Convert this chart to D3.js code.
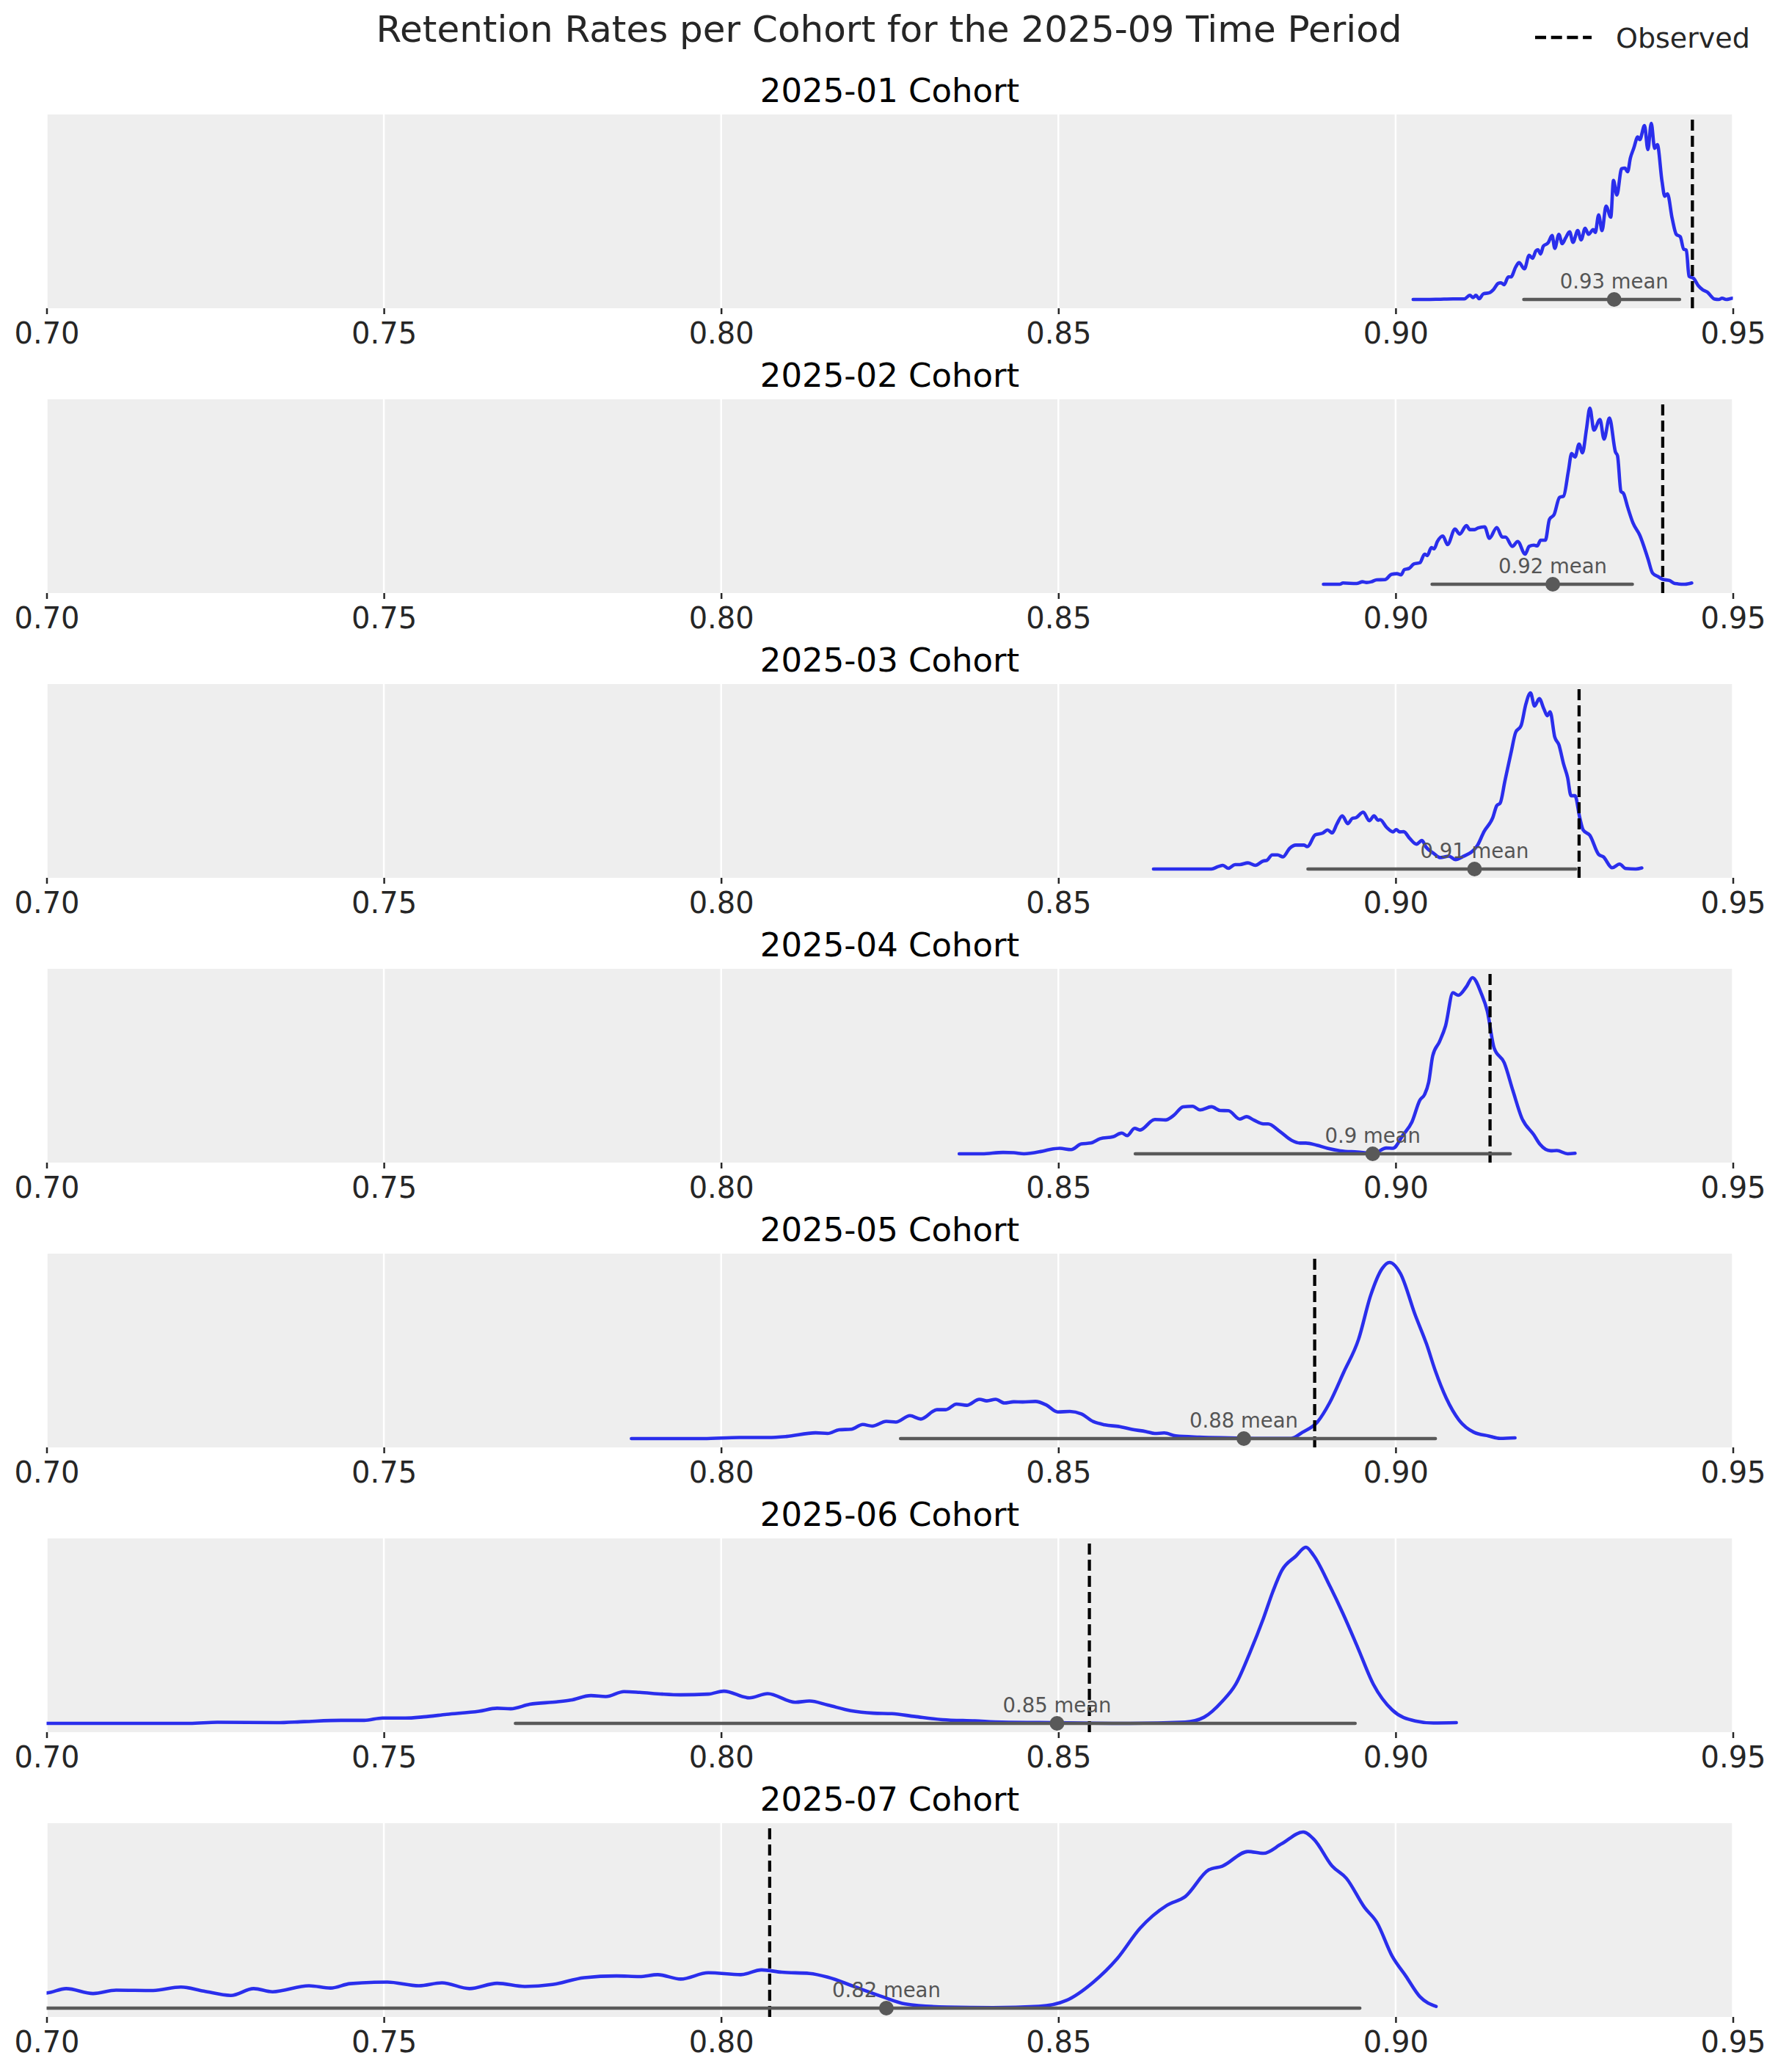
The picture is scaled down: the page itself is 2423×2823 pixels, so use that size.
<!DOCTYPE html>
<html>
<head>
<meta charset="utf-8">
<script src="https://cdn.jsdelivr.net/npm/d3@7"></script>
<style>
  body { margin: 0; background: #fff; }
  svg { display: block; font-family: 'DejaVu Sans', sans-serif; }
</style>
</head>
<body>
<svg id="chart"></svg>
<script>
'use strict';

const cohorts = ['2025-01', '2025-02', '2025-03', '2025-04', '2025-05', '2025-06', '2025-07'];
const observedRates = [0.9440, 0.9396, 0.9272, 0.9140, 0.8880, 0.8546, 0.8072];
const meanRates = [0.9324, 0.9233, 0.9117, 0.8966, 0.8775, 0.8498, 0.8245];
const hdiLower = [0.9190, 0.9054, 0.8870, 0.8614, 0.8266, 0.7695, 0.6800];
const hdiUpper = [0.9421, 0.9351, 0.9267, 0.9170, 0.9059, 0.8940, 0.8947];
const xTicks = [0.70, 0.75, 0.80, 0.85, 0.90, 0.95];

// posterior kde per cohort as [rate, density], density scaled so the peak is 1
const kde202501 = [[0.9026,0],[0.9045,0],[0.9063,0.001],[0.9085,0.003],[0.9102,0.003],[0.9110,0.024],[0.9115,0.011],[0.9119,0.024],[0.9124,0.004],[0.9130,0.032],[0.9139,0.038],[0.9145,0.056],[0.9152,0.091],[0.9156,0.095],[0.9161,0.084],[0.9167,0.128],[0.9171,0.128],[0.9178,0.184],[0.9183,0.209],[0.9191,0.174],[0.9198,0.251],[0.9203,0.234],[0.9208,0.276],[0.9211,0.282],[0.9215,0.258],[0.9219,0.303],[0.9226,0.321],[0.9232,0.363],[0.9236,0.290],[0.9242,0.370],[0.9247,0.317],[0.9252,0.349],[0.9258,0.384],[0.9263,0.324],[0.9270,0.391],[0.9275,0.338],[0.9281,0.404],[0.9286,0.370],[0.9293,0.397],[0.9296,0.380],[0.9301,0.480],[0.9306,0.391],[0.9312,0.530],[0.9319,0.467],[0.9323,0.676],[0.9328,0.593],[0.9335,0.742],[0.9340,0.746],[0.9344,0.725],[0.9348,0.802],[0.9353,0.858],[0.9359,0.923],[0.9362,0.907],[0.9369,0.987],[0.9374,0.851],[0.9379,1.0],[0.9384,0.858],[0.9388,0.879],[0.9395,0.669],[0.9399,0.586],[0.9403,0.600],[0.9410,0.460],[0.9416,0.370],[0.9422,0.356],[0.9427,0.286],[0.9431,0.280],[0.9435,0.132],[0.9442,0.119],[0.9449,0.077],[0.9455,0.056],[0.9462,0.042],[0.9473,0.002],[0.9479,0],[0.9484,0.007],[0.9490,0],[0.9500,0.007],[0.9510,0.004]];
const kde202502 = [[0.8893,0],[0.8917,0],[0.8922,0.007],[0.8942,0.004],[0.8951,0.014],[0.8957,0.010],[0.8964,0.014],[0.8972,0.025],[0.8984,0.026],[0.8994,0.056],[0.9002,0.060],[0.9008,0.053],[0.9013,0.083],[0.9020,0.090],[0.9027,0.115],[0.9036,0.122],[0.9043,0.171],[0.9047,0.163],[0.9053,0.208],[0.9057,0.201],[0.9062,0.243],[0.9070,0.274],[0.9077,0.225],[0.9088,0.313],[0.9095,0.285],[0.9105,0.333],[0.9110,0.310],[0.9117,0.310],[0.9122,0.319],[0.9132,0.326],[0.9139,0.261],[0.9150,0.322],[0.9158,0.268],[0.9163,0.268],[0.9173,0.215],[0.9181,0.243],[0.9192,0.171],[0.9198,0.215],[0.9205,0.222],[0.9210,0.218],[0.9215,0.250],[0.9222,0.250],[0.9228,0.368],[0.9235,0.396],[0.9243,0.493],[0.9249,0.500],[0.9256,0.639],[0.9261,0.743],[0.9266,0.722],[0.9272,0.796],[0.9277,0.746],[0.9283,0.882],[0.9288,1.0],[0.9294,0.875],[0.9303,0.935],[0.9309,0.824],[0.9317,0.944],[0.9326,0.750],[0.9329,0.729],[0.9334,0.528],[0.9338,0.514],[0.9344,0.438],[0.9352,0.347],[0.9362,0.278],[0.9374,0.146],[0.9381,0.063],[0.9389,0.044],[0.9396,0.028],[0.9406,0.021],[0.9414,0.004],[0.9429,0],[0.9439,0.007]];
const kde202503 = [[0.8641,0],[0.8727,0],[0.8737,0.014],[0.8744,0.021],[0.8752,0.004],[0.8762,0.025],[0.8769,0.025],[0.8781,0.035],[0.8792,0.021],[0.8804,0.046],[0.8809,0.049],[0.8817,0.080],[0.8825,0.080],[0.8833,0.069],[0.8843,0.118],[0.8852,0.136],[0.8864,0.136],[0.8869,0.127],[0.8881,0.194],[0.8892,0.204],[0.8899,0.222],[0.8906,0.205],[0.8913,0.256],[0.8921,0.302],[0.8929,0.258],[0.8936,0.288],[0.8941,0.291],[0.8952,0.323],[0.8961,0.274],[0.8968,0.302],[0.8974,0.277],[0.8977,0.280],[0.8987,0.235],[0.8996,0.211],[0.9001,0.224],[0.9006,0.211],[0.9012,0.212],[0.9021,0.173],[0.9031,0.141],[0.9039,0.162],[0.9045,0.125],[0.9056,0.090],[0.9066,0.065],[0.9079,0.073],[0.9089,0.053],[0.9099,0.069],[0.9121,0.132],[0.9131,0.212],[0.9144,0.291],[0.9150,0.360],[0.9155,0.374],[0.9162,0.499],[0.9171,0.658],[0.9178,0.776],[0.9186,0.814],[0.9193,0.935],[0.9200,1.0],[0.9206,0.925],[0.9213,0.967],[0.9220,0.907],[0.9225,0.870],[0.9229,0.893],[0.9236,0.748],[0.9242,0.706],[0.9249,0.596],[0.9255,0.519],[0.9260,0.416],[0.9266,0.416],[0.9273,0.291],[0.9278,0.222],[0.9288,0.191],[0.9301,0.083],[0.9308,0.069],[0.9321,0.007],[0.9332,0.028],[0.9341,0.003],[0.9356,0],[0.9365,0.006]];
const kde202504 = [[0.8353,0],[0.8387,0],[0.8418,0.008],[0.8434,0.006],[0.8449,0],[0.8474,0.013],[0.8487,0.024],[0.8502,0.031],[0.8519,0.024],[0.8534,0.056],[0.8548,0.061],[0.8562,0.086],[0.8581,0.097],[0.8594,0.118],[0.8602,0.103],[0.8613,0.145],[0.8621,0.135],[0.8643,0.195],[0.8659,0.192],[0.8671,0.218],[0.8685,0.267],[0.8699,0.270],[0.8710,0.249],[0.8727,0.267],[0.8740,0.246],[0.8752,0.245],[0.8769,0.197],[0.8779,0.211],[0.8790,0.191],[0.8804,0.170],[0.8811,0.170],[0.8827,0.131],[0.8846,0.076],[0.8858,0.061],[0.8867,0.061],[0.8883,0.049],[0.8899,0.031],[0.8918,0.017],[0.8943,0.010],[0.8968,0.003],[0.8986,0.033],[0.8996,0.031],[0.9011,0.107],[0.9024,0.179],[0.9036,0.305],[0.9043,0.337],[0.9049,0.406],[0.9055,0.556],[0.9065,0.636],[0.9074,0.726],[0.9085,0.914],[0.9093,0.900],[0.9105,0.949],[0.9114,1.0],[0.9127,0.910],[0.9136,0.809],[0.9146,0.601],[0.9161,0.517],[0.9174,0.357],[0.9187,0.204],[0.9205,0.107],[0.9214,0.054],[0.9230,0.017],[0.9239,0.019],[0.9255,0],[0.9266,0.003]];
const kde202505 = [[0.7867,0],[0.7974,0],[0.8027,0.006],[0.8070,0.006],[0.8097,0.012],[0.8140,0.033],[0.8158,0.029],[0.8175,0.050],[0.8193,0.053],[0.8210,0.080],[0.8224,0.071],[0.8245,0.098],[0.8259,0.094],[0.8280,0.130],[0.8296,0.111],[0.8320,0.164],[0.8333,0.164],[0.8349,0.196],[0.8364,0.189],[0.8383,0.223],[0.8394,0.214],[0.8407,0.223],[0.8420,0.202],[0.8434,0.209],[0.8447,0.208],[0.8466,0.211],[0.8482,0.191],[0.8499,0.151],[0.8517,0.154],[0.8534,0.140],[0.8552,0.096],[0.8569,0.078],[0.8591,0.068],[0.8608,0.053],[0.8630,0.040],[0.8643,0.029],[0.8657,0.032],[0.8674,0.015],[0.8709,0.008],[0.8753,0.004],[0.8797,0.001],[0.8845,0.001],[0.8862,0.036],[0.8884,0.094],[0.8902,0.202],[0.8923,0.376],[0.8945,0.563],[0.8963,0.813],[0.8980,0.965],[0.8991,1.0],[0.9007,0.938],[0.9029,0.702],[0.9046,0.535],[0.9059,0.383],[0.9075,0.230],[0.9094,0.105],[0.9116,0.036],[0.9138,0.015],[0.9155,0.001],[0.9177,0.004]];
const kde202506 = [[0.6950,0],[0.7000,0],[0.7110,0],[0.7212,0],[0.7253,0.006],[0.7341,0.004],[0.7382,0.010],[0.7437,0.017],[0.7471,0.017],[0.7498,0.030],[0.7532,0.030],[0.7559,0.037],[0.7593,0.051],[0.7641,0.069],[0.7668,0.086],[0.7688,0.083],[0.7716,0.108],[0.7756,0.122],[0.7777,0.132],[0.7807,0.158],[0.7829,0.152],[0.7856,0.180],[0.7879,0.176],[0.7913,0.166],[0.7940,0.162],[0.7981,0.166],[0.8004,0.183],[0.8042,0.145],[0.8069,0.169],[0.8110,0.120],[0.8131,0.127],[0.8158,0.104],[0.8192,0.072],[0.8226,0.058],[0.8253,0.055],[0.8287,0.039],[0.8328,0.021],[0.8376,0.014],[0.8416,0.007],[0.8498,0.004],[0.8607,0],[0.8688,0.007],[0.8716,0.035],[0.8743,0.125],[0.8763,0.222],[0.8784,0.402],[0.8804,0.596],[0.8818,0.748],[0.8831,0.866],[0.8852,0.949],[0.8867,1.0],[0.8878,0.956],[0.8903,0.776],[0.8922,0.623],[0.8944,0.429],[0.8967,0.222],[0.8995,0.076],[0.9029,0.014],[0.9056,0.002],[0.9090,0.004]];
const kde202507 = [[0.6950,0.080],[0.7000,0.086],[0.7029,0.111],[0.7069,0.083],[0.7103,0.102],[0.7158,0.100],[0.7199,0.120],[0.7233,0.097],[0.7273,0.072],[0.7307,0.111],[0.7335,0.093],[0.7389,0.127],[0.7421,0.114],[0.7450,0.139],[0.7505,0.148],[0.7552,0.127],[0.7586,0.144],[0.7627,0.111],[0.7668,0.141],[0.7709,0.123],[0.7750,0.134],[0.7797,0.173],[0.7845,0.183],[0.7879,0.179],[0.7906,0.190],[0.7940,0.165],[0.7981,0.201],[0.8029,0.190],[0.8060,0.217],[0.8090,0.204],[0.8131,0.197],[0.8158,0.176],[0.8199,0.120],[0.8239,0.065],[0.8273,0.024],[0.8335,0.006],[0.8403,0.003],[0.8471,0.010],[0.8512,0.044],[0.8552,0.148],[0.8587,0.280],[0.8621,0.453],[0.8661,0.584],[0.8688,0.633],[0.8723,0.785],[0.8743,0.806],[0.8781,0.889],[0.8804,0.879],[0.8831,0.933],[0.8863,1.0],[0.8879,0.958],[0.8906,0.806],[0.8927,0.737],[0.8954,0.571],[0.8972,0.488],[0.8995,0.294],[0.9015,0.183],[0.9036,0.065],[0.9060,0.010]];
const densities = [kde202501, kde202502, kde202503, kde202504, kde202505, kde202506, kde202507];

const width = 2423;
const height = 2823;
const plotLeft = 63.5;
const plotRight = 2361.5;
const firstTop = 156;
const panelStep = 388;
const panelHeight = 264;

const svg = d3.select('#chart')
  .attr('width', width)
  .attr('height', height)
  .attr('viewBox', `0 0 ${width} ${height}`);

const x = d3.scaleLinear().domain([0.70, 0.95]).range([plotLeft, plotRight]);
// matplotlib style 5% margin on both ends of the density range
const y = d3.scaleLinear().domain([-0.05, 1.05]).range([panelHeight, 0]);

const kdeLine = d3.line()
  .x(d => x(d[0]))
  .y(d => y(d[1]))
  .curve(d3.curveMonotoneX);

/**
 * one cohort panel: background, grid, kde, observed line, hdi and mean
 * @param {number} i
 */
function _renderPanel(i) {
  const top = firstTop + i * panelStep;
  const g = svg.append('g').attr('transform', `translate(0,${top})`);

  g.append('clipPath').attr('id', `clip-${i}`)
    .append('rect')
    .attr('x', plotLeft).attr('y', 0)
    .attr('width', plotRight - plotLeft).attr('height', panelHeight);

  g.append('rect')
    .attr('x', plotLeft).attr('y', 0)
    .attr('width', plotRight - plotLeft).attr('height', panelHeight)
    .attr('fill', '#eeeeee');

  g.selectAll('.grid').data(xTicks).enter().append('line')
    .attr('class', 'grid')
    .attr('x1', d => x(d)).attr('x2', d => x(d))
    .attr('y1', 0).attr('y2', panelHeight)
    .attr('stroke', '#ffffff')
    .attr('stroke-width', 2.5);

  const axis = g.append('g')
    .attr('transform', `translate(0,${panelHeight})`)
    .call(d3.axisBottom(x).tickValues(xTicks).tickFormat(d3.format('.2f')).tickSize(8));
  axis.select('.domain').remove();
  axis.selectAll('.tick line').attr('stroke', '#262626').attr('stroke-width', 2.5);
  axis.selectAll('.tick text')
    .attr('y', 48).attr('dy', null)
    .attr('fill', '#262626')
    .style('font-size', '40px')
    .style('font-family', "'DejaVu Sans', sans-serif");

  g.append('text')
    .attr('x', (plotLeft + plotRight) / 2)
    .attr('y', -17)
    .attr('text-anchor', 'middle')
    .attr('fill', '#000')
    .style('font-size', '45px')
    .text(`${cohorts[i]} Cohort`);

  const inner = g.append('g').attr('clip-path', `url(#clip-${i})`);

  inner.append('path')
    .datum(densities[i])
    .attr('d', kdeLine)
    .attr('fill', 'none')
    .attr('stroke', '#2a2eec')
    .attr('stroke-width', 4.6)
    .attr('stroke-linejoin', 'round')
    .attr('stroke-linecap', 'round');

  // dash pattern runs from the bottom up, as axvline does
  inner.append('line')
    .attr('x1', x(observedRates[i])).attr('x2', x(observedRates[i]))
    .attr('y1', panelHeight).attr('y2', 0)
    .attr('stroke', '#000')
    .attr('stroke-width', 4.3)
    .attr('stroke-dasharray', '15 7');

  inner.append('line')
    .attr('x1', x(hdiLower[i])).attr('x2', x(hdiUpper[i]))
    .attr('y1', y(0)).attr('y2', y(0))
    .attr('stroke', '#595959')
    .attr('stroke-width', 4.5)
    .attr('stroke-linecap', 'round');

  inner.append('circle')
    .attr('cx', x(meanRates[i])).attr('cy', y(0))
    .attr('r', 10)
    .attr('fill', '#595959');

  inner.append('text')
    .attr('x', x(meanRates[i]))
    .attr('y', y(0) - 15)
    .attr('text-anchor', 'middle')
    .attr('fill', '#555555')
    .style('font-size', '27.5px')
    .text(`${+meanRates[i].toFixed(2)} mean`);
}

svg.append('text')
  .attr('x', width / 2)
  .attr('y', 57)
  .attr('text-anchor', 'middle')
  .attr('fill', '#262626')
  .style('font-size', '50px')
  .text('Retention Rates per Cohort for the 2025-09 Time Period');

// legend
const legend = svg.append('g');
legend.append('line')
  .attr('x1', 2092).attr('x2', 2169)
  .attr('y1', 51).attr('y2', 51)
  .attr('stroke', '#000')
  .attr('stroke-width', 4.3)
  .attr('stroke-dasharray', '15 6.7');
legend.append('text')
  .attr('x', 2202).attr('y', 65)
  .attr('fill', '#262626')
  .style('font-size', '38px')
  .text('Observed');

cohorts.forEach((c, i) => _renderPanel(i));
</script>
</body>
</html>
